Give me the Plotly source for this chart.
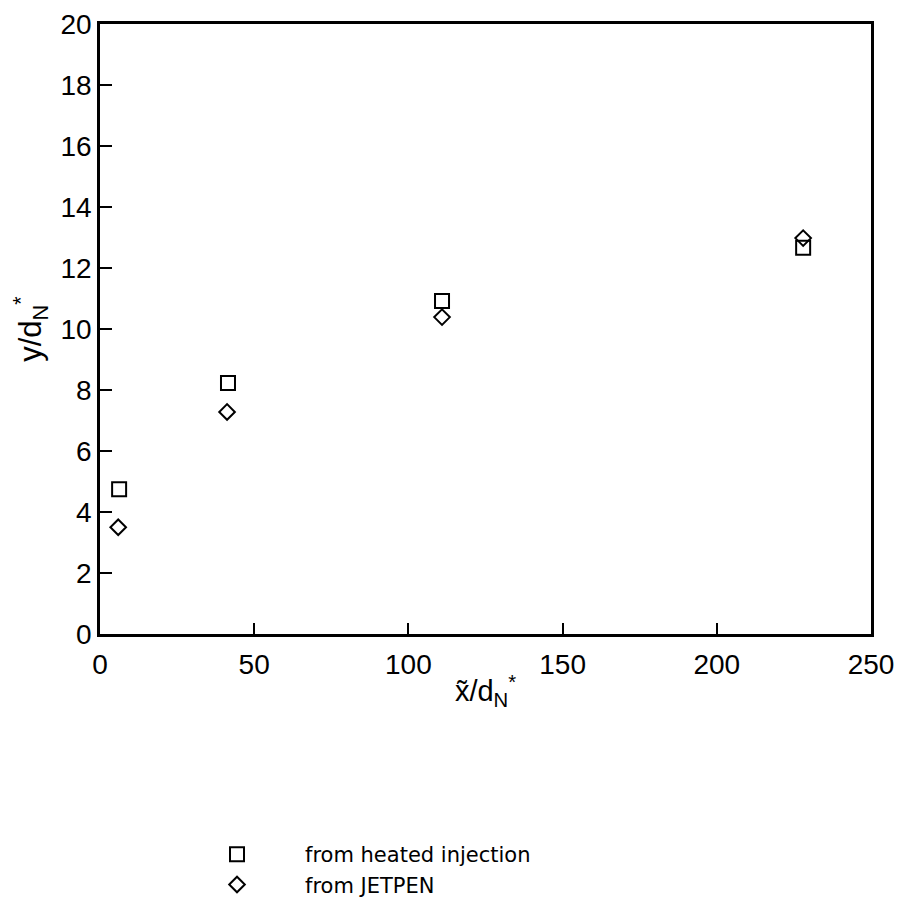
import plotly.graph_objects as go

# Data
x_heated = [6.2, 41.5, 110.9, 228.0]
y_heated = [4.75, 8.23, 10.92, 12.66]
x_jetpen = [5.9, 41.2, 110.9, 228.0]
y_jetpen = [3.5, 7.28, 10.39, 12.98]
x_ticks = [0, 50, 100, 150, 200, 250]
y_ticks = [0, 2, 4, 6, 8, 10, 12, 14, 16, 18, 20]

FONT = "Liberation Sans"
LEG_FONT = "DejaVu Sans"

fig = go.Figure()
fig.add_trace(go.Scatter(
    x=x_heated, y=y_heated, mode="markers", name="from heated injection",
    marker=dict(symbol="square-open", size=14, color="black", line=dict(width=2, color="black")),
))
fig.add_trace(go.Scatter(
    x=x_jetpen, y=y_jetpen, mode="markers", name="from JETPEN",
    marker=dict(symbol="diamond-open", size=12, color="black", line=dict(width=2, color="black")),
))

# page body has an 8px margin, so the figure is 16px smaller than the window
fig.update_layout(
    width=888, height=890,
    paper_bgcolor="white", plot_bgcolor="white",
    margin=dict(l=92, r=25, t=16, b=264, autoexpand=False),
    font=dict(family=FONT, color="black", size=28),
    showlegend=True,
    legend=dict(
        x=0.0895, y=-0.328, xanchor="left", yanchor="top",
        font=dict(family=LEG_FONT, size=21, color="black"),
        itemwidth=126, bgcolor="rgba(0,0,0,0)", tracegroupgap=0,
    ),
)
fig.update_xaxes(
    range=[0, 250], tickvals=x_ticks, ticktext=[str(v) for v in x_ticks],
    ticks="inside", ticklen=11, tickwidth=1.5, tickcolor="black",
    showline=True, linecolor="black", linewidth=2.5, mirror=True,
    showgrid=False, zeroline=False,
    tickfont=dict(family=FONT, size=28), ticklabelstandoff=4,
    title=dict(text="x\u0303/d<sub>N</sub><sup>*</sup>", font=dict(family=FONT, size=29), standoff=2),
)
fig.update_yaxes(
    range=[0, 20], tickvals=y_ticks, ticktext=[str(v) for v in y_ticks],
    ticks="inside", ticklen=12, tickwidth=1.5, tickcolor="black",
    showline=True, linecolor="black", linewidth=2.5, mirror=True,
    showgrid=False, zeroline=False,
    tickfont=dict(family=FONT, size=28), ticklabelstandoff=0,
    title=dict(text="y/d<sub>N</sub><sup>*</sup>", font=dict(family=FONT, size=31), standoff=15),
)

fig.write_html("out.html")
